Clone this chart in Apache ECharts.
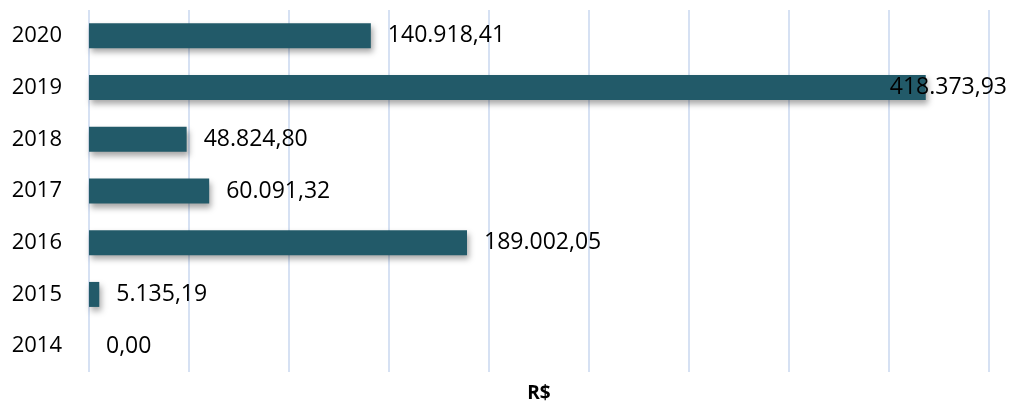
<!DOCTYPE html>
<html>
<head>
<meta charset="utf-8">
<script src="https://cdn.jsdelivr.net/npm/echarts@6/dist/echarts.min.js"></script>
<style>
html,body{margin:0;padding:0;background:#fff;}
#c{width:1013px;height:405px;}
</style>
</head>
<body>
<div id="c"></div>
<script>
const categories = ['2014', '2015', '2016', '2017', '2018', '2019', '2020'];
const values = [0, 5135.19, 189002.05, 60091.32, 48824.80, 418373.93, 140918.41];
const axisName = 'R$';

function fmt(v) {
  const parts = v.toFixed(2).split('.');
  const intPart = parts[0].replace(/\B(?=(\d{3})+(?!\d))/g, '.');
  return intPart + ',' + parts[1];
}

const FONT = 'Open Sans';
const chart = echarts.init(document.getElementById('c'));
chart.setOption({
  animation: false,
  grid: { left: 89, right: 24, top: 10, bottom: 33, containLabel: false, outerBoundsMode: 'none' },
  xAxis: {
    type: 'value', min: 0, max: 450000, interval: 50000,
    axisLabel: { show: false },
    axisLine: { show: false }, axisTick: { show: false },
    splitLine: { show: true, lineStyle: { color: '#d6e1f3', width: 2 } },
    name: axisName, nameLocation: 'middle', nameGap: 12,
    nameTextStyle: { fontFamily: FONT, fontWeight: 'bold', fontSize: 19, color: '#000' }
  },
  yAxis: {
    type: 'category', data: categories,
    axisLine: { show: false }, axisTick: { show: false },
    axisLabel: { fontFamily: FONT, fontSize: 22, color: '#000', margin: 27 }
  },
  series: [{
    type: 'bar',
    barWidth: 25,
    data: values.map((v, i) => categories[i] === '2019'
      ? { value: v, label: { offset: [-53, 0] } }
      : v),
    itemStyle: {
      color: '#225a69',
      shadowBlur: 6, shadowOffsetX: 2, shadowOffsetY: 4,
      shadowColor: 'rgba(0,0,0,0.35)'
    },
    label: {
      show: true, position: 'right', distance: 17,
      fontFamily: FONT, fontSize: 23, color: '#000',
      formatter: p => fmt(p.value)
    }
  }]
});
</script>
</body>
</html>
